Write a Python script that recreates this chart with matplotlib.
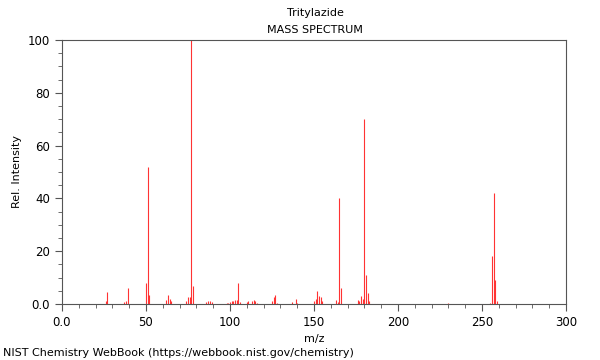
import matplotlib
matplotlib.use("Agg")
import matplotlib.pyplot as plt
from matplotlib.ticker import MultipleLocator, FuncFormatter

# peaks (m/z, relative intensity)
mz = [26, 27, 37, 38, 39, 50, 51, 52, 62, 63, 64, 65, 74, 75, 76, 77, 78,
      86, 87, 88, 89, 98, 99, 100, 101, 102, 103, 104, 105, 106,
      110, 111, 113, 114, 115, 116, 125, 126, 127, 128, 137, 139, 140,
      150, 151, 152, 153, 154, 155, 163, 164, 165, 166,
      176, 177, 178, 179, 180, 181, 182, 183, 230,
      255, 256, 257, 258, 259]
intensity = [1.0, 4.5, 0.8, 1.2, 6.0, 8.0, 52.0, 3.5, 1.5, 3.5, 2.0, 1.0, 1.0, 2.5, 2.5, 100.0, 7.0,
             0.8, 1.2, 1.0, 0.8, 0.5, 0.5, 0.8, 1.0, 1.2, 1.5, 1.5, 8.0, 0.8,
             0.8, 1.2, 1.0, 1.5, 1.0, 0.5, 1.0, 2.5, 3.5, 0.5, 0.8, 2.0, 0.5,
             1.0, 2.0, 5.0, 3.0, 2.5, 1.0, 1.5, 0.8, 40.0, 6.0,
             1.5, 1.0, 3.0, 2.0, 70.0, 11.0, 4.0, 1.0, 0.5,
             0.5, 18.0, 42.0, 9.0, 1.0]

title = "Tritylazide"
subtitle = "MASS SPECTRUM"
footer = "NIST Chemistry WebBook (https://webbook.nist.gov/chemistry)"

fig = plt.figure(figsize=(6, 3.6), dpi=100)
ax = fig.add_axes([0.1033, 0.1556, 0.84, 0.7333])

ax.vlines(mz, 0, intensity, colors="#ff3333", linewidth=0.8)

ax.set_xlim(0, 300)
ax.set_ylim(0, 100)
ax.xaxis.set_major_locator(MultipleLocator(50))
ax.xaxis.set_minor_locator(MultipleLocator(10))
ax.yaxis.set_major_locator(MultipleLocator(20))
ax.yaxis.set_minor_locator(MultipleLocator(5))

fmt = FuncFormatter(lambda v, p: "0.0" if v == 0 else f"{v:.0f}")
ax.xaxis.set_major_formatter(fmt)
ax.yaxis.set_major_formatter(fmt)

for s in ax.spines.values():
    s.set_color("#555555")
    s.set_linewidth(0.8)
ax.tick_params(which="both", direction="out", colors="#555555", labelcolor="black", labelsize=8.5)
ax.tick_params(which="major", length=5)
ax.tick_params(which="minor", length=3)

ax.set_xlabel("m/z", fontsize=8)
ax.set_ylabel("Rel. Intensity", fontsize=8)

fig.text(0.525, 0.963, title, ha="center", va="center", fontsize=8)
fig.text(0.525, 0.916, subtitle, ha="center", va="center", fontsize=8)
fig.text(0.005, 0.02, footer, ha="left", va="center", fontsize=8)

fig.savefig("out.png", dpi=100)
